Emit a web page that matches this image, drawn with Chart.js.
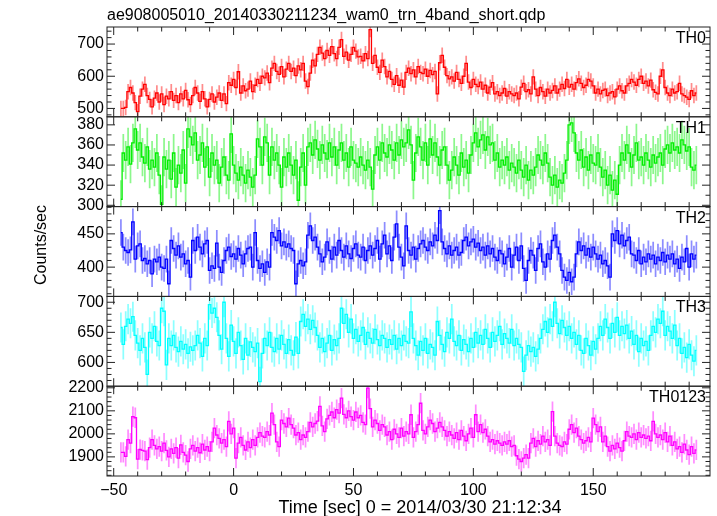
<!DOCTYPE html>
<html>
<head>
<meta charset="utf-8">
<script src="https://cdn.jsdelivr.net/npm/chart.js@4.4.1/dist/chart.umd.min.js"></script>
<style>
  html, body { margin: 0; padding: 0; background: #fff; }
</style>
</head>
<body>
<canvas id="lc" width="717" height="516"></canvas>
<script>
const plotTitle = "ae908005010_20140330211234_wam0_trn_4band_short.qdp";
const xTitle = "Time [sec] 0 = 2014/03/30 21:12:34";
const yTitle = "Counts/sec";

// 1 s bins, first bin centre at -47 s
const tStart = -47;
const xTicks = [-50, 0, 50, 100, 150];

const bands = ["TH0", "TH1", "TH2", "TH3", "TH0123"];
const bandColors = ["#ff0000", "#00ee00", "#0000ff", "#00ffff", "#ff00ff"];
const bandErr = [24, 19, 20, 25, 44];

// axis ranges and tick labels per panel
const yMin = [474, 298.7, 356, 560.5, 1817];
const yMax = [753, 388, 491, 709.7, 2207];
const yLabels = [[500, 600, 700], [300, 320, 340, 360, 380], [400, 450], [600, 650, 700], [1900, 2000, 2100, 2200]];
const yMinor = [20, 10, 10, 10, 20];

const th0 = [
  500,500,503,552,565,548,518,490,538,560,
  575,540,528,505,532,548,520,545,512,538,
  530,552,525,540,518,545,530,556,527,512,
  540,565,548,522,552,530,505,528,545,520,
  535,548,525,545,515,580,572,590,565,614,
  548,570,555,560,585,552,572,590,578,600,
  595,610,580,625,640,615,606,630,598,622,
  640,615,625,602,632,620,640,585,568,610,
  650,632,668,690,672,655,680,665,692,670,
  655,690,714,662,675,650,668,690,678,660,
  662,648,670,655,745,640,665,628,612,650,
  630,598,615,590,575,602,572,588,566,612,
  625,608,620,598,630,612,608,622,600,618,
  605,615,545,642,665,628,602,592,598,585,
  612,590,578,600,640,582,565,590,575,568,
  582,560,572,548,566,580,545,552,540,548,
  562,538,552,545,540,548,530,566,578,552,
  558,545,598,560,540,565,552,538,560,548,
  556,570,548,560,575,562,590,566,575,560,
  580,592,578,565,572,590,585,570,548,560,
  545,556,560,540,548,552,536,560,570,555,
  548,570,578,590,582,572,590,600,578,585,
  570,588,558,550,545,600,620,565,548,540,
  560,548,552,578,545,540,535,528,555,540,
  548
];

const th1 = [
  306,352,345,358,341,362,376,355,362,348,
  342,358,336,345,338,352,330,301,348,336,
  345,326,352,318,340,332,355,322,376,368,
  360,372,345,350,362,338,358,328,352,340,
  345,322,338,348,330,325,371,340,332,325,
  338,330,322,335,328,318,330,366,358,340,
  368,362,330,358,345,352,340,318,348,338,
  352,340,330,345,305,338,352,320,358,362,
  350,365,356,345,360,352,346,362,348,358,
  340,355,362,345,352,338,358,345,342,338,
  348,340,335,345,338,316,350,358,345,362,
  352,348,360,355,345,362,350,365,358,362,
  375,360,325,352,368,358,345,362,340,366,
  350,362,348,340,355,358,340,325,335,348,
  340,330,352,338,345,332,350,362,372,358,
  365,370,355,368,360,362,345,352,338,345,
  340,348,335,342,338,332,345,335,328,340,
  325,335,330,338,350,345,340,352,342,328,
  320,330,318,325,322,332,345,380,382,372,
  352,345,355,338,348,335,350,342,340,352,
  338,328,335,320,330,315,325,311,340,352,
  345,360,352,338,350,362,345,348,340,352,
  345,338,350,342,348,352,340,356,360,352,
  362,355,358,352,365,360,354,358,338,335,
  340
];

const th2 = [
  452,430,425,422,426,468,412,432,435,410,
  413,405,410,390,412,408,415,400,398,412,
  375,440,428,418,432,415,420,405,410,385,
  440,425,445,430,420,435,440,395,402,398,
  436,400,392,410,425,430,416,420,412,428,
  418,405,420,428,430,400,452,410,398,405,
  392,408,400,452,445,440,455,432,438,430,
  435,428,425,375,405,410,402,408,448,462,
  440,445,430,420,408,415,438,425,412,430,
  418,440,425,415,432,420,413,428,435,418,
  415,430,410,425,432,418,428,440,412,435,
  448,420,432,410,445,465,430,415,402,462,
  425,418,430,412,428,435,440,430,425,438,
  432,448,440,485,438,428,420,432,418,425,
  430,418,422,440,445,432,438,442,430,436,
  425,430,418,432,420,428,415,410,425,420,
  405,415,428,400,418,430,410,432,398,380,
  410,425,418,395,428,435,408,400,420,412,
  440,448,430,420,395,385,380,392,378,385,
  420,438,425,432,418,428,415,430,420,412,
  418,405,410,402,385,450,440,455,435,448,
  432,440,445,420,418,410,425,405,415,408,
  420,412,418,405,415,410,422,408,418,412,
  420,405,412,398,415,408,428,400,420,412,
  418
];

const th3 = [
  658,630,660,672,665,676,645,632,620,640,
  625,580,650,640,660,635,628,690,685,596,
  640,628,645,625,618,635,622,630,615,626,
  620,628,645,632,610,640,628,696,682,690,
  675,645,622,700,640,610,662,635,615,650,
  628,605,640,612,634,625,618,632,568,615,
  640,628,650,625,618,640,622,645,630,615,
  638,620,612,642,615,668,680,660,672,655,
  670,658,645,625,640,618,632,645,620,638,
  628,640,690,665,680,650,672,640,655,635,
  645,658,630,650,640,632,655,638,628,645,
  640,625,638,630,645,622,640,628,645,635,
  632,684,640,628,612,635,620,640,615,630,
  625,612,668,645,630,618,650,640,672,635,
  628,645,620,638,630,618,640,625,650,632,
  645,630,655,640,625,650,635,645,660,630,
  648,640,632,655,628,640,630,625,585,612,
  628,618,625,610,622,640,655,668,650,672,
  660,700,665,648,670,658,645,660,640,650,
  630,645,620,615,640,628,612,635,622,640,
  660,645,672,658,640,665,650,675,645,660,
  648,662,640,652,630,645,618,640,628,635,
  620,645,660,650,672,665,685,645,660,652,
  640,662,628,640,615,625,608,630,612,602,
  620
];

const th0123 = [
  1920,1920,1902,1975,1960,2075,2070,1890,1932,1928,
  1925,1888,1940,1975,1950,1935,1945,1925,1960,1928,
  1900,1935,1915,1940,1895,1952,1920,1908,1880,1935,
  1950,1925,1940,1918,1955,1930,1945,1925,1965,2025,
  1995,1980,1960,1975,1945,2054,2000,2025,1895,1960,
  1985,1950,1930,1965,1940,1975,1950,1985,2005,1990,
  1985,2010,1995,2090,2040,1965,1945,2060,2045,2030,
  2068,2040,2025,1995,2005,1975,1995,1985,2010,2050,
  2030,2045,2055,2119,2035,2010,2065,2080,2095,2070,
  2105,2090,2155,2085,2070,2100,2075,2060,2095,2070,
  2080,2050,2040,2199,2110,2030,2060,2045,2015,2040,
  2030,1995,2010,1975,2020,2000,1985,2025,1990,2010,
  2000,2083,1985,2010,2040,2133,2015,2000,2030,2060,
  2045,2010,2025,2050,2030,2015,1990,2010,1995,1980,
  2005,1975,2015,1990,1970,2000,2025,1985,2083,2010,
  2040,2005,2020,1990,1965,1975,1955,1970,1960,1950,
  1965,1955,1970,1945,1950,1905,1890,1880,1895,1910,
  1895,1960,1980,1945,1970,1955,1990,1965,1975,1950,
  2097,1990,1960,1950,1945,1965,1955,2020,2040,2005,
  2025,1990,1975,1960,1970,1985,1965,2068,2040,2010,
  2030,1965,1990,1945,1925,1950,1935,1960,1940,1925,
  1970,2010,1990,1985,2000,1975,2005,1985,1995,1980,
  1990,1970,2054,2000,1985,1995,1975,2005,1965,1990,
  1950,1965,1935,1945,1920,1955,1930,1910,1945,1915,
  1930
];

const bandData = [th0, th1, th2, th3, th0123];

const fontFam = '"Liberation Sans", Arial, Helvetica, sans-serif';
Chart.defaults.font.family = fontFam;
Chart.defaults.color = "#000";

function alpha(hex, a) {
  const n = parseInt(hex.slice(1), 16);
  return "rgba(" + (n >> 16) + "," + ((n >> 8) & 255) + "," + (n & 255) + "," + a + ")";
}

const datasets = [];
bands.forEach((b, i) => {
  const vals = bandData[i];
  datasets.push({
    type: "line",
    label: b,
    yAxisID: "y" + i,
    data: vals.map((v, k) => ({ x: tStart + k, y: v })),
    stepped: "middle",
    borderColor: bandColors[i],
    borderWidth: 1.3,
    pointRadius: 0,
    fill: false,
    order: 0
  });
  datasets.push({
    type: "bar",
    label: b + " err",
    yAxisID: "y" + i,
    data: vals.map((v, k) => ({ x: tStart + k, y: [v - bandErr[i], v + bandErr[i]] })),
    backgroundColor: alpha(bandColors[i], 0.45),
    borderWidth: 0,
    grouped: false,
    maxBarThickness: 2,
    order: 1
  });
});

const scales = {
  x: {
    type: "linear",
    min: -52.8,
    max: 198.7,
    offset: false,
    grid: { display: false, drawTicks: false, offset: false },
    border: { display: false },
    afterBuildTicks: s => { s.ticks = xTicks.map(v => ({ value: v })); },
    afterFit: s => { s.height = 40; },
    ticks: {
      autoSkip: false,
      maxRotation: 0,
      padding: 5,
      font: { size: 16 },
      callback: v => (v < 0 ? "\u2212" + Math.abs(v) : String(v))
    }
  }
};
// stacked axes are laid out bottom first, so add the bottom panel first
for (let i = bands.length - 1; i >= 0; i--) {
  scales["y" + i] = {
    type: "linear",
    position: "left",
    stack: "panels",
    stackWeight: 1,
    min: yMin[i],
    max: yMax[i],
    grid: { display: false, drawTicks: false },
    border: { display: false },
    afterBuildTicks: s => { s.ticks = yLabels[i].map(v => ({ value: v })); },
    afterFit: s => { s.width = 107; },
    ticks: { autoSkip: false, padding: 3, font: { size: 16 }, callback: v => String(v) }
  };
}

// keep each band inside its own panel
const panelClip = {
  id: "panelClip",
  beforeDatasetDraw(chart, args) {
    const s = chart.scales[args.meta.yAxisID];
    const a = chart.chartArea;
    chart.ctx.save();
    chart.ctx.beginPath();
    chart.ctx.rect(a.left, s.top, a.right - a.left, s.bottom - s.top);
    chart.ctx.clip();
  },
  afterDatasetDraw(chart) {
    chart.ctx.restore();
  }
};

// qdp style frames, inward ticks, labels
const qdpFrame = {
  id: "qdpFrame",
  afterDatasetsDraw(chart) {
    const ctx = chart.ctx;
    const a = chart.chartArea;
    const xs = chart.scales.x;
    ctx.save();
    ctx.strokeStyle = "#222";
    ctx.lineWidth = 1;
    bands.forEach((b, i) => {
      const s = chart.scales["y" + i];
      ctx.strokeRect(a.left, s.top, a.right - a.left, s.bottom - s.top);
      ctx.beginPath();
      for (let t = -50; t <= 190; t += 10) {
        const px = xs.getPixelForValue(t);
        const len = t % 50 === 0 ? 8 : 4.5;
        ctx.moveTo(px, s.top); ctx.lineTo(px, s.top + len);
        ctx.moveTo(px, s.bottom); ctx.lineTo(px, s.bottom - len);
      }
      const step = yMinor[i];
      const major = yLabels[i][1] - yLabels[i][0];
      for (let v = Math.ceil(yMin[i] / step) * step; v <= yMax[i]; v += step) {
        const py = s.getPixelForValue(v);
        const len = Math.abs(v % major) < 1e-6 ? 8 : 4.5;
        ctx.moveTo(a.left, py); ctx.lineTo(a.left + len, py);
        ctx.moveTo(a.right, py); ctx.lineTo(a.right - len, py);
      }
      ctx.stroke();
      ctx.fillStyle = "#000";
      ctx.font = "16px " + fontFam;
      ctx.textAlign = "right";
      ctx.textBaseline = "alphabetic";
      ctx.fillText(b, a.right - 4, s.top + 16);
    });
    ctx.fillStyle = "#000";
    ctx.font = "16px " + fontFam;
    ctx.textAlign = "left";
    ctx.fillText(plotTitle, a.left, 20);
    ctx.textAlign = "center";
    ctx.translate(46, 245);
    ctx.rotate(-Math.PI / 2);
    ctx.fillText(yTitle, 0, 0);
    ctx.setTransform(1, 0, 0, 1, 0, 0);
    ctx.font = "18px " + fontFam;
    ctx.fillText(xTitle, 420, 513);
    ctx.restore();
  }
};

new Chart(document.getElementById("lc"), {
  data: { datasets: datasets },
  options: {
    responsive: false,
    animation: false,
    devicePixelRatio: 1,
    layout: { padding: { left: 0, right: 7, top: 27, bottom: 0 } },
    plugins: { legend: { display: false }, tooltip: { enabled: false }, title: { display: false } },
    scales: scales
  },
  plugins: [panelClip, qdpFrame]
});
</script>
</body>
</html>
